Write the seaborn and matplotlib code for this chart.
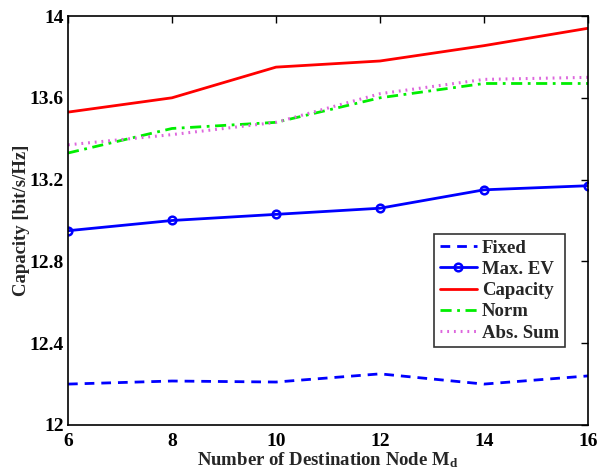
import matplotlib
matplotlib.use("Agg")
import matplotlib.pyplot as plt
import seaborn as sns
import pandas as pd

# Number of destination nodes
nodes = [6, 8, 10, 12, 14, 16]

# Capacity [bit/s/Hz] per selection scheme
fixed = [12.20, 12.215, 12.21, 12.25, 12.20, 12.24]
max_ev = [12.95, 13.00, 13.03, 13.06, 13.15, 13.17]
capacity = [13.53, 13.60, 13.75, 13.78, 13.855, 13.94]
norm = [13.33, 13.45, 13.48, 13.60, 13.67, 13.67]
abs_sum = [13.37, 13.42, 13.48, 13.62, 13.69, 13.70]

labels = ["Fixed", "Max. EV", "Capacity", "Norm", "Abs. Sum"]
yticks = [12, 12.4, 12.8, 13.2, 13.6, 14]
ytick_labels = ["12", "12.4", "12.8", "13.2", "13.6", "14"]
xticks = [6, 8, 10, 12, 14, 16]

sns.set_style("white")
plt.rcParams["font.family"] = ["Liberation Serif", "DejaVu Serif"]
plt.rcParams["font.weight"] = "bold"
plt.rcParams["mathtext.fontset"] = "custom"
plt.rcParams["mathtext.rm"] = "Liberation Serif:bold"
plt.rcParams["mathtext.bf"] = "Liberation Serif:bold"
plt.rcParams["mathtext.it"] = "Liberation Serif:bold"

df = pd.DataFrame({"Md": nodes, "Fixed": fixed, "Max. EV": max_ev,
                   "Capacity": capacity, "Norm": norm, "Abs. Sum": abs_sum})

fig = plt.figure(figsize=(5.98, 4.75), dpi=100)
ax = fig.add_axes([0.1137, 0.1053, 0.8696, 0.861])

styles = {
    "Fixed": dict(color="#0000ff", linestyle=(0, (3.5, 2.5)), linewidth=2),
    "Max. EV": dict(color="#0000ff", linestyle="-", linewidth=2, marker="o",
                    markersize=5.5, markerfacecolor="none", markeredgewidth=1.8,
                    markeredgecolor="#0000ff"),
    "Capacity": dict(color="#ff0000", linestyle="-", linewidth=2),
    "Norm": dict(color="#00ee00", linestyle=(0, (4, 2, 1, 2)), linewidth=2),
    "Abs. Sum": dict(color="#dd66dd", linestyle=(0, (0.6, 1.6)), linewidth=2.2),
}
handles = []
for name in labels:
    n_before = len(ax.lines)
    sns.lineplot(data=df, x="Md", y=name, ax=ax, color=styles[name]["color"])
    line = ax.lines[n_before]
    line.set(**styles[name])
    line.set_label(name)
    handles.append(line)

ax.set_xlim(6, 16)
ax.set_ylim(12, 14)
ax.set_xticks(xticks)
ax.set_yticks(yticks)
ax.set_xticklabels([str(v) for v in xticks])
ax.set_yticklabels(ytick_labels)
ax.tick_params(direction="in", length=5, width=1, top=True, right=True,
               labelsize=14, colors="black")
ax.tick_params(axis="x", pad=6)
ax.tick_params(axis="y", pad=3)
for lab in ax.get_xticklabels() + ax.get_yticklabels():
    lab.set_fontweight("bold")
for sp in ax.spines.values():
    sp.set_visible(True)
    sp.set_color("black")
    sp.set_linewidth(1.2)

ax.set_xlabel(r"Number of Destination Node M$_{\mathrm{d}}$", fontsize=13.5,
              fontweight="bold", labelpad=0)
ax.set_ylabel("Capacity [bit/s/Hz]", fontsize=13.5, fontweight="bold", labelpad=0)

leg = ax.legend(handles=handles, labels=labels, loc="lower right",
                bbox_to_anchor=(0.955, 0.19), fontsize=13.5,
                frameon=True, fancybox=False, edgecolor="black",
                handlelength=2.0, handletextpad=0.25, labelspacing=0.22,
                borderpad=0.3, borderaxespad=0)
leg.get_frame().set_linewidth(1.2)
for t in leg.get_texts():
    t.set_fontweight("bold")

fig.savefig("out.png", dpi=100)
